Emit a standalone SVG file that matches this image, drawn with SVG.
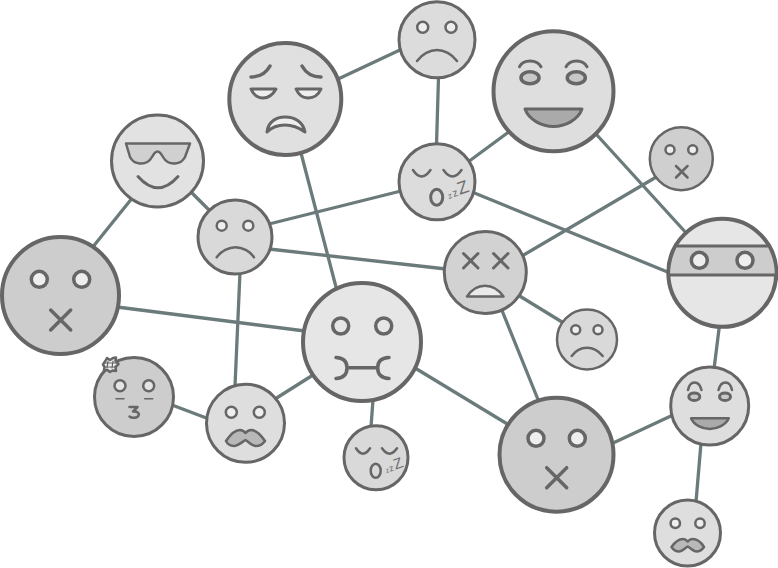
<svg xmlns="http://www.w3.org/2000/svg" width="778" height="568" viewBox="0 0 778 568">
<style>
.bg{fill:#fff}
.e{stroke:#6b7a7a;stroke-width:3.3;fill:none;stroke-linecap:round}
.n{stroke:#666}
.l{stroke:#666;fill:none;stroke-linecap:round;stroke-linejoin:round}
.s{stroke:#666;stroke-linecap:round;stroke-linejoin:round}
.z{font-family:"Liberation Sans",Arial,sans-serif;fill:#6f6f6f}
.w4{stroke-width:4}.w35{stroke-width:3.5}.w3{stroke-width:3}.w25{stroke-width:2.5}
.f-eye{fill:#eee}.f-lid{fill:#c8c8c8}.f-dark{fill:#aaa}.f-mou{fill:#b8b8b8}
</style>
<rect class="bg" width="778" height="568"/>
<g id="connectors">
<line class="e" x1="336" y1="80" x2="402" y2="49"/>
<line class="e" x1="438.500" y1="77" x2="436.500" y2="145"/>
<line class="e" x1="468" y1="162" x2="510" y2="131"/>
<line class="e" x1="596" y1="134" x2="688" y2="235"/>
<line class="e" x1="472" y1="192" x2="670" y2="273"/>
<line class="e" x1="269" y1="224" x2="401" y2="191"/>
<line class="e" x1="190" y1="191" x2="211" y2="212"/>
<line class="e" x1="133" y1="197" x2="92" y2="248"/>
<line class="e" x1="269" y1="249" x2="446" y2="269"/>
<line class="e" x1="301" y1="153" x2="336" y2="287"/>
<line class="e" x1="522" y1="256" x2="658" y2="176"/>
<line class="e" x1="518" y1="295" x2="562" y2="322"/>
<line class="e" x1="501" y1="308" x2="539" y2="402"/>
<line class="e" x1="117" y1="307" x2="305" y2="331"/>
<line class="e" x1="240" y1="272" x2="235" y2="386"/>
<line class="e" x1="275" y1="399" x2="313" y2="375"/>
<line class="e" x1="172" y1="405" x2="209" y2="419"/>
<line class="e" x1="373" y1="400" x2="371" y2="427"/>
<line class="e" x1="415" y1="368" x2="509" y2="425"/>
<line class="e" x1="611" y1="444" x2="673" y2="415"/>
<line class="e" x1="719.500" y1="325" x2="714" y2="369"/>
<line class="e" x1="701" y1="443" x2="696" y2="502"/>
</g>

<g id="node-worried">
<circle class="n w4" cx="285.300" cy="99" r="56" fill="#e0e0e0"/>
<path class="l w35" d="M251,77 Q264,77 270,66"/>
<path class="l w35" d="M302,66 Q308,77 321,77"/>
<path class="s w3 f-eye" d="M251,89 H276 Q271,98 263,98 Q255,98 251,89Z"/>
<path class="s w3 f-eye" d="M296,89 H321 Q317,98 308,98 Q300,98 296,89Z"/>
<path class="s w3 f-eye" d="M267,132 C268,122 276,117 285,117 C295,117 303,122 305,132 C298,127 292,125 285,125 C279,125 272,127 267,132Z"/>
</g>

<g id="node-sad-top">
<circle class="n w3" cx="437" cy="39.800" r="38" fill="#dcdcdc"/>
<circle class="s w25 f-eye" cx="422.700" cy="27.300" r="5.500"/>
<circle class="s w25 f-eye" cx="451" cy="27.300" r="5.500"/>
<path class="l w25" d="M417,61 C422,54 430,50 437,50 C444,50 452,54 457,61"/>
</g>

<g id="node-grin-big">
<circle class="n w4" cx="553.500" cy="91.300" r="60" fill="#dedede"/>
<path class="l w3" d="M519.500,66.700 C523,59 537,59 541,66.700"/>
<path class="l w3" d="M566,66.700 C570,59 583,59 587,66.700"/>
<ellipse class="s w35 f-lid" cx="530" cy="77.700" rx="9" ry="6"/>
<ellipse class="s w35 f-lid" cx="576.300" cy="77.700" rx="9" ry="6"/>
<path class="s w3 f-dark" d="M525,109 H582 C578,120 565,126.500 553.500,126.500 C542,126.500 529,120 525,109Z"/>
</g>

<g id="node-sunglasses">
<circle class="n w3" cx="157.500" cy="161" r="46" fill="#e2e2e2"/>
<path class="s w25" fill="#d0d0d0" d="M126,143.500 H190 L185,157 Q182,163 175,163.500 Q167,164 163,157 Q160,151.500 157.500,151.500 Q155,151.500 152,157 Q148,164 140,163.500 Q133,163 130,157Z"/>
<path class="l w3" d="M138,176.500 Q158,199 178,176.500"/>
</g>

<g id="node-sad-left">
<circle class="n w3" cx="235" cy="237" r="37" fill="#d9d9d9"/>
<circle class="s w25 f-eye" cx="221.700" cy="225.700" r="5"/>
<circle class="s w25 f-eye" cx="248.300" cy="225.700" r="5"/>
<path class="l w25" d="M216.700,257.300 C221,251 229,247.300 235.500,247.300 C242,247.300 250,251 254,257.300"/>
</g>

<g id="node-sleep">
<circle class="n w3" cx="437" cy="181.700" r="38" fill="#dcdcdc"/>
<path class="l w25" d="M413,170 Q421.500,183 430.500,170"/>
<path class="l w25" d="M443.500,170 Q452.500,183 461.500,170"/>
<ellipse class="s w3" cx="436.700" cy="197.300" rx="6" ry="8" fill="none"/>
<text class="z" transform="translate(449 199) rotate(-20)"><tspan font-size="8">z</tspan><tspan font-size="11" dx="1">z</tspan><tspan font-size="18" dx="1">Z</tspan></text>
</g>

<g id="node-x-small">
<circle class="n w25" cx="681.300" cy="158.700" r="31.500" fill="#cfcfcf"/>
<circle class="s w25 f-eye" cx="670" cy="149.700" r="4.500"/>
<circle class="s w25 f-eye" cx="692.700" cy="149.700" r="4.500"/>
<path class="l w25" d="M676,166 L687.500,177.500 M687.500,166 L676,177.500"/>
</g>

<g id="node-ninja">
<circle class="n w4" cx="722.300" cy="272.800" r="54" fill="#e6e6e6"/>
<path class="s w3" fill="#cdcdcd" d="M675.500,246 H769 Q776.500,260 776.300,275 H668.500 Q668.500,260 675.500,246Z"/>
<circle class="s w35 f-eye" cx="699.300" cy="260.300" r="8"/>
<circle class="s w35 f-eye" cx="745" cy="260.300" r="8"/>
</g>

<g id="node-dead">
<circle class="n w3" cx="485.300" cy="272.500" r="41" fill="#d2d2d2"/>
<path class="l w3" d="M463.500,253.500 L478,268 M478,253.500 L463.500,268"/>
<path class="l w3" d="M493.500,253.500 L508,268 M508,253.500 L493.500,268"/>
<path class="s w25" fill="#eaeaea" d="M467,296.500 H503.500 Q496,285.700 485,285.700 Q474,285.700 467,296.500Z"/>
</g>

<g id="node-sad-small">
<circle class="n w25" cx="587" cy="339.500" r="30" fill="#d9d9d9"/>
<circle class="s w25 f-eye" cx="575.700" cy="329.700" r="4.500"/>
<circle class="s w25 f-eye" cx="598" cy="329.700" r="4.500"/>
<path class="l w25" d="M571.700,356 C576,350 582,347.700 587,347.700 C592,347.700 598,350 602.700,356"/>
</g>

<g id="node-x-left">
<circle class="n w4" cx="60.500" cy="295.500" r="58.500" fill="#cdcdcd"/>
<circle class="s w35 f-eye" cx="39.300" cy="279.300" r="8"/>
<circle class="s w35 f-eye" cx="81.700" cy="279.300" r="8"/>
<path class="l w35" d="M50.700,310 L70.700,330 M70.700,310 L50.700,330"/>
</g>

<g id="node-center">
<circle class="n w4" cx="362" cy="342" r="59" fill="#e6e6e6"/>
<circle class="s w35" cx="340.700" cy="326" r="8" fill="#e6e6e6"/>
<circle class="s w35" cx="383.700" cy="326" r="8" fill="#e6e6e6"/>
<path class="l w35" d="M336,357.500 Q347,358 347,367.700 Q347,378 336,378.500 M347,367.700 H377.700 M389,357.500 Q377.700,358 377.700,367.700 Q377.700,378 389,378.500"/>
</g>

<g id="node-kiss">
<circle class="n w3" cx="134" cy="397" r="39.500" fill="#cdcdcd"/>
<path class="s w25 f-eye" d="M107,358 L110,360 L113,358 L116,357.500 L115.500,361 L118.500,364 L115.500,367 L116,371 L112.500,370.500 L110,372 L107.500,370 L104,370.500 L104.500,367 L103,364.500 L105,361.500Z"/>
<path class="l" stroke-width="1.200" d="M108,361 L107,368 M113,361 L112,368 M105,363 L116,363 M105,367 L116,367"/>
<circle class="s w25" fill="#e4e4e4" cx="120" cy="385.700" r="5.500"/>
<circle class="s w25" fill="#e4e4e4" cx="148.700" cy="385.700" r="5.500"/>
<path class="l" stroke-width="1.500" d="M116,398.700 H124 M144.700,398.700 H152.700"/>
<path class="l w25" d="M129.500,407 H137.500 L133,411.500 C138,411 139.500,413.500 138.500,415.500 C137.500,418 132,418.500 129.500,416.500"/>
</g>

<g id="node-moustache">
<circle class="n w3" cx="245.500" cy="423.300" r="39" fill="#dedede"/>
<circle class="s w25 f-eye" cx="231.300" cy="412.300" r="5.500"/>
<circle class="s w25 f-eye" cx="259.300" cy="412.300" r="5.500"/>
<path class="s w25 f-mou" d="M226,441 C230,435 235,430 240,430 C242,430 244,431 245.500,433 C247,431 249,430 251,430 C256,430 261,435 265,441 C262,445 259,446 256,446 C252,446 249,442 245.500,440 C242,442 238,446 234,446 C231,446 228,445 226,441Z"/>
</g>

<g id="node-sleep-small">
<circle class="n w3" cx="376" cy="457.800" r="32" fill="#d9d9d9"/>
<path class="l w25" d="M356,448.300 Q363,459 370,448.300"/>
<path class="l w25" d="M382,448.300 Q389.500,459 397,448.300"/>
<ellipse class="s w25" cx="375.700" cy="470.700" rx="5" ry="7" fill="none"/>
<text class="z" transform="translate(386.500 473) rotate(-20)"><tspan font-size="7">z</tspan><tspan font-size="9" dx="0.500">z</tspan><tspan font-size="15" dx="1">Z</tspan></text>
</g>

<g id="node-x-bottom">
<circle class="n w4" cx="556.500" cy="454.700" r="57" fill="#cdcdcd"/>
<circle class="s w35 f-eye" cx="536" cy="438.300" r="8"/>
<circle class="s w35 f-eye" cx="577.300" cy="438.300" r="8"/>
<path class="l w35" d="M546.700,467.700 L566.700,487.700 M566.700,467.700 L546.700,487.700"/>
</g>

<g id="node-grin-small">
<circle class="n w3" cx="709.700" cy="406" r="39" fill="#dedede"/>
<path class="l w25" d="M688,390 C690,380 699,380 701.500,390"/>
<path class="l w25" d="M718.500,390 C721,380 730,380 732,390"/>
<ellipse class="s w3 f-lid" cx="694.300" cy="396.700" rx="5.500" ry="3.800"/>
<ellipse class="s w3 f-lid" cx="725" cy="396.700" rx="5.500" ry="3.800"/>
<path class="s w25 f-dark" d="M691,418.300 H728.700 C726,425 717,429 709.800,429 C702,429 694,425 691,418.300Z"/>
</g>

<g id="node-moustache-small">
<circle class="n w3" cx="687.500" cy="533" r="33" fill="#dedede"/>
<circle class="s w25 f-eye" cx="675.300" cy="523.300" r="4.700"/>
<circle class="s w25 f-eye" cx="700" cy="523.300" r="4.700"/>
<path class="s w25 f-mou" d="M671.500,547 C675,542 679,539 683,539 C685,539 686.500,540 687.700,541.500 C689,540 690.500,539 692.500,539 C697,539 701,542 704,547 C702,550 699,551.500 696.500,551.500 C693.500,551.500 690.500,548 687.700,546.500 C685,548 682,551.500 679,551.500 C676,551.500 673.500,550 671.500,547Z"/>
</g>
</svg>
